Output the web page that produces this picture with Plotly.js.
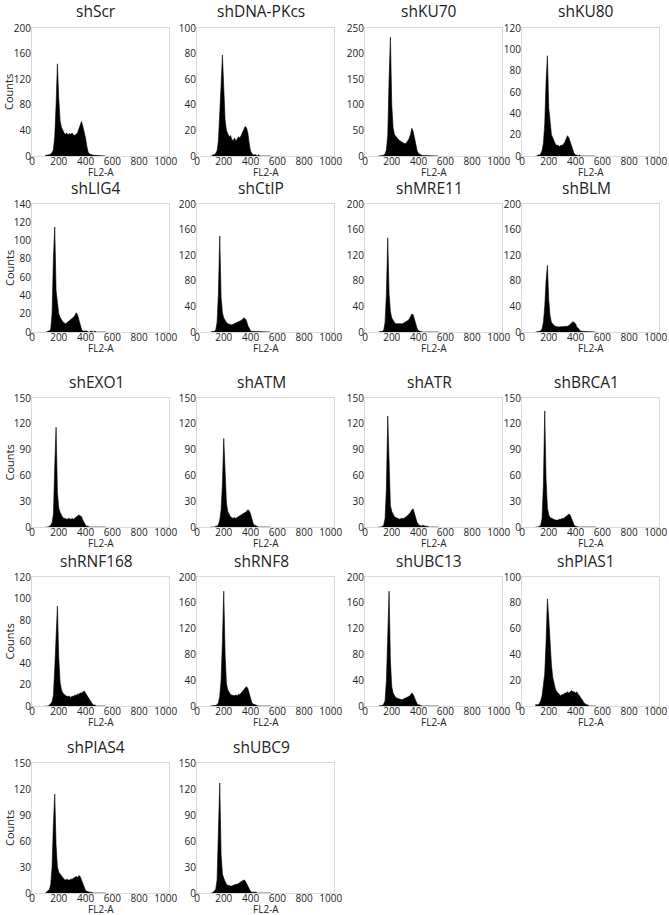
<!DOCTYPE html>
<html>
<head>
<meta charset="utf-8">
<script src="https://cdn.plot.ly/plotly-3.0.1.min.js"></script>
<style>html,body{margin:0;padding:0;background:#fff;}#chart{width:669px;height:915px;}</style>
</head>
<body>
<div id="chart"></div>
<script>
// FL2-A channel (bin centres)
const X = [100,110,120,130,140,150,160,170,180,190,200,210,220,230,240,250,260,270,280,290,300,310,320,330,340,350,360,370,380,390,400,410,420,430,440,450,460,470,480,490,500,510,520,530,540,550];

const names = ["shScr","shDNA-PKcs","shKU70","shKU80","shLIG4","shCtIP","shMRE11","shBLM","shEXO1","shATM","shATR","shBRCA1","shRNF168","shRNF8","shUBC13","shPIAS1","shPIAS4","shUBC9"];
const yMax  = [200,100,250,120,140,200,200,200,150,150,150,150,120,200,200,100,150,150];
const yStep = [40,20,50,20,20,40,40,40,30,30,30,30,20,40,40,20,30,30];
const xTicks = [0,200,400,600,800,1000];

const shScr    = [1,1,1,2,3,5,10,30,80,144, 90,55,45,40,36,34,36,33,35,34, 36,33,32,34,36,42,50,54,46,38, 28,15,6,3,2,1,1,1,1,0, 0,0,0,0,0,0];
const shDNAPKcs= [0,0,1,1,2,4,12,30,55,79, 45,28,20,17,15,16,13,12,14,12, 13,15,14,16,18,20,23,22,18,10, 4,2,1,1,1,0,1,0,0,0, 0,0,0,0,0,0];
const shKU70   = [0,0,1,1,2,4,12,40,150,232, 100,55,42,38,35,32,30,28,26,25, 24,26,30,34,42,54,48,35,20,10, 5,3,2,1,1,1,1,0,0,0, 0,0,0,0,0,0];
const shKU80   = [0,0,1,1,2,5,12,30,70,94, 45,28,20,17,14,11,10,10,9,10, 10,11,13,16,19,17,13,9,5,2, 1,1,0,1,0,0,0,0,0,0, 0,0,0,0,0,0];
const shLIG4   = [0,0,1,1,3,20,80,115,45,28, 20,16,13,11,10,9,10,11,12,13, 14,16,18,21,19,14,8,3,1,1, 1,1,0,0,1,0,0,1,0,0, 0,0,0,0,0,0];
const shCtIP   = [0,0,1,1,3,15,60,150,55,30, 22,18,15,13,12,12,11,12,13,13, 14,15,16,18,20,22,21,17,10,5, 2,1,1,0,0,0,0,0,0,0, 0,0,0,0,0,0];
const shMRE11  = [0,0,1,1,3,15,60,147,60,32, 22,18,15,13,13,12,12,13,13,14, 15,16,18,20,24,28,27,20,10,5, 2,1,1,0,0,0,0,0,0,0, 0,0,0,0,0,0];
const shBLM    = [0,0,0,1,2,5,15,40,80,104, 50,25,15,12,10,9,8,8,8,8, 9,8,8,9,9,10,12,14,16,15, 13,8,5,3,1,1,1,1,0,0, 1,0,0,0,0,0];
const shEXO1   = [0,0,0,1,2,5,15,70,116,40, 22,17,13,11,10,10,9,10,10,9, 10,9,10,11,13,14,13,12,8,4, 2,1,1,0,0,0,0,0,0,0, 0,0,0,0,0,0];
const shATM    = [0,0,0,0,1,1,3,8,20,50, 103,60,28,18,14,12,11,10,11,10, 11,12,12,13,14,15,17,18,20,19, 15,9,4,2,1,1,0,0,0,0, 0,0,0,0,0,0];
const shATR    = [0,0,0,1,2,10,45,129,60,25, 18,15,12,11,10,10,9,10,10,10, 11,12,13,15,17,20,21,16,10,5, 3,2,1,2,1,1,1,0,0,0, 0,0,0,0,0,0];
const shBRCA1  = [0,0,0,1,2,10,50,135,55,22, 14,11,10,9,8,8,8,8,9,9, 10,10,11,12,14,15,14,10,5,2, 1,0,0,0,0,0,0,0,0,0, 0,0,0,0,0,0];
const shRNF168 = [0,0,0,1,2,4,10,35,70,93, 45,22,15,12,11,10,9,9,9,8, 9,9,10,10,11,11,12,12,13,14, 12,10,7,5,3,2,1,1,0,0, 0,0,0,0,0,0];
const shRNF8   = [0,0,0,0,1,2,5,15,40,100, 178,80,35,25,20,18,17,16,16,17, 16,18,18,20,22,25,28,30,27,20, 10,5,3,2,1,0,0,0,0,0, 0,0,0,0,0,0];
const shUBC13  = [0,0,0,1,3,8,40,120,178,70, 30,20,15,13,12,11,10,10,10,11, 11,12,13,15,17,20,18,13,7,3, 2,1,0,0,0,0,0,0,0,0, 0,0,0,0,0,0];
const shPIAS1  = [1,1,1,2,4,8,15,25,50,83, 68,45,32,22,16,13,11,10,9,8, 9,9,10,10,11,10,11,12,11,11, 10,11,9,8,6,5,3,2,1,1, 0,0,0,0,0,0];
const shPIAS4  = [0,1,2,4,10,30,80,114,55,30, 24,22,19,17,16,15,16,15,15,16, 16,17,18,19,18,20,19,15,10,6, 3,2,1,1,1,0,0,0,0,0, 0,0,0,0,0,0];
const shUBC9   = [0,0,1,2,4,15,60,127,45,22, 17,13,10,9,8,8,8,9,9,10, 10,11,12,13,14,15,14,11,8,4, 2,1,1,1,1,0,0,0,0,0, 0,0,0,0,0,0];

const series = [shScr,shDNAPKcs,shKU70,shKU80,shLIG4,shCtIP,shMRE11,shBLM,shEXO1,shATM,shATR,shBRCA1,shRNF168,shRNF8,shUBC13,shPIAS1,shPIAS4,shUBC9];

// layout geometry (pixels)
const FW = 669, FH = 915;
const colLeft = [32,197,365,522];
const PW = 137;
const rowTop = [28,204,398,577,763];
const rowBot = [156,332,527,706,893];

const FONT = "Open Sans, Noto Sans, sans-serif";
const traces = [];
const layout = {
  width: FW, height: FH,
  margin: {l:0, r:0, t:0, b:0},
  paper_bgcolor: "#fff", plot_bgcolor: "#fff",
  showlegend: false,
  font: {family: FONT, color: "#222"},
  annotations: []
};

series.forEach((ys, i) => {
  const r = Math.floor(i / 4), c = i % 4;
  const n = i + 1;
  const xa = n === 1 ? "x" : "x" + n;
  const ya = n === 1 ? "y" : "y" + n;
  traces.push({
    type: "scatter", mode: "lines", x: X, y: ys,
    xaxis: xa, yaxis: ya,
    fill: "tozeroy", fillcolor: "#000",
    line: {color: "#000", width: 0.6},
    hoverinfo: "skip"
  });
  const axCommon = {
    showgrid: false, zeroline: false, showline: true, mirror: true,
    linecolor: "#d9d9d9", linewidth: 1, ticks: "",
    tickfont: {family: FONT, size: 10, color: "#222"}, fixedrange: true
  };
  layout["xaxis" + (n === 1 ? "" : n)] = Object.assign({}, axCommon, {
    domain: [colLeft[c] / FW, (colLeft[c] + PW) / FW],
    range: [0, 1024], tickvals: xTicks, anchor: ya, ticklabelstandoff: -4
  });
  layout["yaxis" + (n === 1 ? "" : n)] = Object.assign({}, axCommon, {
    domain: [(FH - rowBot[r]) / FH, (FH - rowTop[r]) / FH],
    range: [0, yMax[i]], dtick: yStep[i], tick0: 0, anchor: xa, ticklabelstandoff: -2
  });
  const ph = rowBot[r] - rowTop[r];
  layout.annotations.push({
    text: names[i], xref: xa + " domain", yref: ya + " domain",
    x: 0.47, y: 1 + 16.5 / ph, xanchor: "center", yanchor: "middle",
    showarrow: false, font: {family: FONT, size: 15.5, color: "#222"}
  });
  layout.annotations.push({
    text: "FL2-A", xref: xa + " domain", yref: ya + " domain",
    x: 0.5, y: -15.5 / ph, xanchor: "center", yanchor: "middle",
    showarrow: false, font: {family: FONT, size: 10, color: "#222"}
  });
  if (c === 0) {
    layout.annotations.push({
      text: "Counts", xref: xa + " domain", yref: ya + " domain",
      x: -23 / PW, y: 0.5, xanchor: "center", yanchor: "middle", textangle: -90,
      showarrow: false, font: {family: FONT, size: 11, color: "#222"}
    });
  }
});

Plotly.newPlot("chart", traces, layout, {staticPlot: true, displayModeBar: false});
</script>
</body>
</html>
